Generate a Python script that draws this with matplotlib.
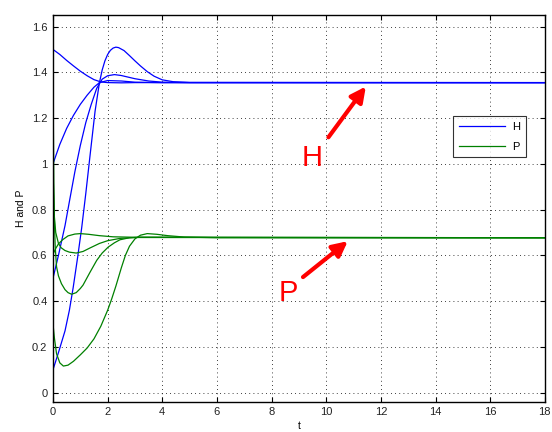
import matplotlib
matplotlib.use('Agg')
import matplotlib.pyplot as plt

plt.rcParams['font.family'] = ['Liberation Sans', 'DejaVu Sans']

# host trajectories H(t)
t_h1 = [0, 0.25, 0.5, 0.75, 1.0, 1.25, 1.5, 1.75, 2.0, 2.5, 3.0, 18]
h1 = [1.5, 1.478, 1.452, 1.428, 1.405, 1.385, 1.368, 1.358, 1.355, 1.354, 1.355, 1.355]

t_h2 = [0, 0.25, 0.5, 0.75, 1.0, 1.25, 1.5, 1.7, 2.0, 2.5, 3.0, 4.0, 18]
h2 = [1.0, 1.085, 1.155, 1.212, 1.26, 1.30, 1.335, 1.355, 1.364, 1.362, 1.357, 1.355, 1.355]

t_h3 = [0, 0.2, 0.44, 0.6, 0.8, 1.0, 1.2, 1.4, 1.6, 1.8, 2.0, 2.25, 2.5, 3.0, 3.5, 4.0, 5.0, 18]
h3 = [0.5, 0.6, 0.73, 0.835, 0.965, 1.08, 1.18, 1.26, 1.33, 1.37, 1.385, 1.39, 1.386,
      1.372, 1.362, 1.357, 1.355, 1.355]

t_h4 = [0, 0.2, 0.44, 0.6, 0.74, 0.9, 1.05, 1.2, 1.35, 1.54, 1.7, 1.8, 1.9, 2.0, 2.1,
        2.2, 2.3, 2.4, 2.6, 2.8, 3.0, 3.2, 3.45, 3.7, 4.0, 4.4, 5.0, 18]
h4 = [0.1, 0.175, 0.27, 0.36, 0.46, 0.59, 0.72, 0.87, 1.03, 1.23, 1.355, 1.41, 1.45,
      1.478, 1.496, 1.506, 1.51, 1.508, 1.495, 1.473, 1.45, 1.428, 1.403, 1.383,
      1.367, 1.359, 1.356, 1.355]

# parasitoid trajectories P(t)
t_p1 = [0, 0.1, 0.2, 0.35, 0.55, 0.8, 1.0, 1.3, 1.7, 2.2, 3.0, 18]
p1 = [0.605, 0.63, 0.65, 0.668, 0.685, 0.693, 0.695, 0.692, 0.686, 0.681, 0.679, 0.677]

t_p2 = [0, 0.02, 0.05, 0.1, 0.2, 0.3, 0.44, 0.6, 0.85, 1.1, 1.35, 1.7, 2.0, 2.45, 3.0, 18]
p2 = [1.0, 0.88, 0.77, 0.70, 0.652, 0.633, 0.621, 0.614, 0.61, 0.617, 0.632, 0.652,
      0.664, 0.674, 0.678, 0.677]

t_p3 = [0, 0.015, 0.03, 0.05, 0.08, 0.13, 0.2, 0.31, 0.44, 0.55, 0.68, 0.85, 1.0, 1.1,
        1.35, 1.6, 1.8, 2.02, 2.25, 2.45, 2.8, 3.2, 18]
p3 = [1.5, 1.15, 0.92, 0.76, 0.64, 0.55, 0.51, 0.476, 0.45, 0.437, 0.43, 0.437, 0.455,
      0.47, 0.525, 0.578, 0.61, 0.636, 0.655, 0.668, 0.677, 0.679, 0.677]

t_p4 = [0, 0.05, 0.13, 0.25, 0.38, 0.55, 0.75, 1.0, 1.25, 1.5, 1.75, 2.0, 2.15, 2.3,
        2.5, 2.65, 2.8, 3.0, 3.2, 3.45, 3.8, 4.2, 4.8, 6.0, 18]
p4 = [0.3, 0.24, 0.17, 0.13, 0.116, 0.12, 0.137, 0.165, 0.195, 0.235, 0.29, 0.36, 0.41,
      0.465, 0.545, 0.6, 0.64, 0.672, 0.688, 0.695, 0.692, 0.686, 0.68, 0.677, 0.677]

H_runs = [(t_h1, h1), (t_h2, h2), (t_h3, h3), (t_h4, h4)]
P_runs = [(t_p1, p1), (t_p2, p2), (t_p3, p3), (t_p4, p4)]

fig = plt.figure(figsize=(5.52, 4.32), dpi=100)
ax = fig.add_axes([0.096, 0.070, 0.891, 0.895])

for i, (t, h) in enumerate(H_runs):
    ax.plot(t, h, color='#0000ff', lw=0.9, label='H' if i == 0 else None)
for i, (t, p) in enumerate(P_runs):
    ax.plot(t, p, color='#008000', lw=0.9, label='P' if i == 0 else None)

ax.set_xlim(0, 18)
ax.set_ylim(-0.04, 1.65)
ax.set_xticks(range(0, 19, 2))
ax.set_yticks([0, 0.2, 0.4, 0.6, 0.8, 1.0, 1.2, 1.4, 1.6])
ax.set_yticklabels(['0', '0.2', '0.4', '0.6', '0.8', '1', '1.2', '1.4', '1.6'])
ax.tick_params(direction='in', top=True, right=True, length=3.5, labelsize=8, pad=4,
               labelcolor='#222222')
ax.grid(True, color='black', linestyle=(0, (1, 4)), lw=0.6)
for s in ax.spines.values():
    s.set_linewidth(1.0)

ax.set_xlabel('t', fontsize=7.5, labelpad=3)
ax.set_ylabel('H and P', fontsize=7.5, labelpad=4)

leg = ax.legend(loc='upper right', bbox_to_anchor=(0.961, 0.739), borderaxespad=0,
                fontsize=8, fancybox=False, edgecolor='black', handlelength=4.2,
                borderpad=0.5, labelspacing=0.9, handletextpad=0.6)
leg.get_frame().set_linewidth(0.8)

arrow = dict(arrowstyle='-|>,head_length=0.9,head_width=0.45', color='red', lw=3,
             shrinkA=0, shrinkB=0)
ax.annotate('', xy=(11.45, 1.338), xytext=(10.08, 1.116), arrowprops=arrow)
ax.annotate('', xy=(10.79, 0.662), xytext=(9.15, 0.505), arrowprops=arrow)
ax.text(9.48, 1.027, 'H', color='red', fontsize=21, ha='center', va='center')
ax.text(8.6, 0.434, 'P', color='red', fontsize=21, ha='center', va='center')

fig.savefig('out.png', dpi=100)
